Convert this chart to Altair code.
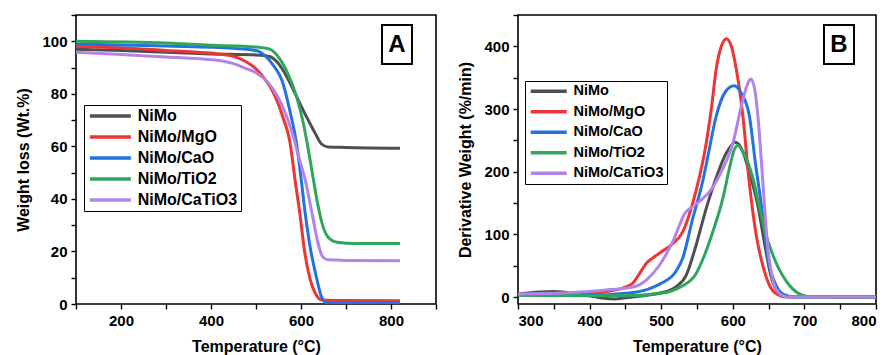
import altair as alt
import pandas as pd

SERIES = ["NiMo", "NiMo/MgO", "NiMo/CaO", "NiMo/TiO2", "NiMo/CaTiO3"]
COLORS = ["#4f4f4f", "#ee3434", "#2272e0", "#30a65c", "#b283e8"]

# ---------- Panel A: TGA (weight %) ----------
a_nimo_t = [100, 200, 300, 400, 500, 530, 550, 570, 590, 610, 630, 645, 660, 700, 820]
a_nimo_w = [97, 96.5, 95.8, 95.2, 94.8, 94.2, 91.5, 86, 79, 72, 65.5, 61, 59.8, 59.6, 59.3]

a_mgo_t = [100, 200, 300, 400, 450, 480, 500, 520, 540, 560, 575, 587, 597, 608, 620, 632, 647, 700, 820]
a_mgo_w = [98, 97.5, 96.5, 95.5, 94.3, 92, 89.5, 85.5, 80, 71, 62, 47, 35, 20, 9.6, 4, 1.5, 1.3, 1.2]

a_cao_t = [100, 300, 450, 500, 520, 540, 558, 576, 591, 600, 609, 620, 635, 645, 655, 700, 820]
a_cao_w = [99, 98.2, 97.3, 96.5, 94.5, 90.5, 85, 73, 60, 48, 35, 22, 9.6, 3, 0.6, 0.3, 0.3]

a_tio2_t = [100, 300, 400, 500, 530, 550, 570, 590, 605, 615, 625, 635, 648, 660, 680, 720, 820]
a_tio2_w = [100, 99.3, 98.5, 97.8, 97, 94, 88, 79, 69, 60, 50, 40, 30, 25.5, 23.5, 23, 23]

a_catio3_t = [100, 200, 300, 400, 450, 480, 500, 528, 558, 580, 595, 609, 624, 639, 648, 660, 700, 820]
a_catio3_w = [95.8, 95, 94, 93, 91.5, 89.5, 88, 84, 75.5, 65.5, 56, 47.5, 35, 22.4, 18, 16.8, 16.6, 16.5]

# ---------- Panel B: DTG (%/min) ----------
b_nimo_t = [300, 330, 350, 370, 400, 420, 435, 450, 480, 500, 520, 535, 548, 562, 576, 590, 604,
            614, 623, 635, 644, 653, 665, 675, 800]
b_nimo_d = [5, 8, 9, 7, 2, -2, -3, -1, 3, 7, 16, 35, 80, 138, 188, 228, 247,
            232, 199, 146, 88, 35, 5, 0, 0]

b_mgo_t = [300, 350, 400, 430, 450, 460, 470, 480, 490, 500, 515, 530, 544, 555, 562, 570, 577, 584,
           591, 598, 604, 614, 623, 632, 642, 650, 656, 663, 670, 800]
b_mgo_d = [4, 5, 6, 10, 16, 22, 38, 55, 64, 72, 84, 104, 150, 200, 240, 300, 365, 400,
           412, 400, 369, 290, 183, 104, 50, 22, 10, 4, 1, 0]

b_cao_t = [300, 400, 450, 480, 500, 520, 530, 544, 558, 567, 576, 590, 602, 612, 623, 632, 642, 651,
           657, 663, 670, 677, 685, 800]
b_cao_d = [3, 3, 6, 12, 22, 40, 62, 125, 185, 235, 285, 328, 337, 325, 290, 210, 130, 50,
           28, 13, 5, 2, 0, 0]

b_tio2_t = [300, 400, 450, 500, 515, 530, 548, 558, 572, 586, 595, 602, 607, 615, 628, 637, 645, 660,
            679, 697, 710, 800]
b_tio2_d = [3, 2, 2, 6, 10, 18, 36, 60, 104, 157, 204, 235, 242, 230, 190, 145, 105, 56,
            19, 3, 0, 0]

b_catio3_t = [300, 350, 400, 430, 450, 470, 480, 497, 516, 534, 545, 558, 570, 586, 600, 613, 620, 625,
              630, 635, 642, 649, 653, 658, 664, 670, 680, 800]
b_catio3_d = [5, 6, 9, 12, 14, 20, 28, 50, 88, 135, 145, 157, 172, 205, 245, 310, 338, 348,
              335, 290, 183, 77, 45, 19, 7, 2, 0, 0]


def long_df(pairs, ycol):
    rows = []
    for name, (ts, vs) in zip(SERIES, pairs):
        for t, v in zip(ts, vs):
            rows.append({"Sample": name, "T": t, ycol: v})
    return pd.DataFrame(rows)


df_a = long_df([(a_nimo_t, a_nimo_w), (a_mgo_t, a_mgo_w), (a_cao_t, a_cao_w),
                (a_tio2_t, a_tio2_w), (a_catio3_t, a_catio3_w)], "W")
df_b = long_df([(b_nimo_t, b_nimo_d), (b_mgo_t, b_mgo_d), (b_cao_t, b_cao_d),
                (b_tio2_t, b_tio2_d), (b_catio3_t, b_catio3_d)], "D")

FONT = "Liberation Sans"


def axis(title, values, label_step, title_pad):
    return alt.Axis(
        title=title, values=values, grid=False, domain=False,
        labelExpr=f"datum.value % {label_step} == 0 ? datum.label : ''",
        labelFont=FONT, labelFontSize=15, labelFontWeight="bold", labelColor="black",
        labelPadding=4, tickColor="black", tickWidth=1.4, tickSize=5,
        titleFont=FONT, titleFontSize=16, titleFontWeight="bold", titleColor="black",
        titlePadding=title_pad,
    )


def legend(x, y, font_size, sym_len, row_pad):
    # custom path spanning [-1, 7] units; unit = sqrt(size)/2
    unit = sym_len / 8.0
    size = (2 * unit) ** 2
    return alt.Legend(
        title=None, orient="none", legendX=x, legendY=y,
        fillColor="white", strokeColor="black", padding=3,
        symbolType="M-1,0L7,0", symbolSize=size, symbolStrokeWidth=3.5,
        symbolFillColor="transparent",
        labelFont=FONT, labelFontSize=font_size, labelFontWeight="bold", labelColor="black",
        rowPadding=row_pad, labelOffset=sym_len + 4 - 2 * unit,
    )


def panel(df, ycol, xdom, ydom, xvals, xstep, yvals, ystep, ytitle, leg, letter):
    lines = alt.Chart(df).mark_line(strokeWidth=3, interpolate="monotone", clip=True).encode(
        x=alt.X("T:Q", scale=alt.Scale(domain=xdom, nice=False, zero=False),
                axis=axis("Temperature (°C)", xvals, xstep, 10)),
        y=alt.Y(f"{ycol}:Q", scale=alt.Scale(domain=ydom, nice=False, zero=False),
                axis=axis(ytitle, yvals, ystep, 10)),
        color=alt.Color("Sample:N", scale=alt.Scale(domain=SERIES, range=COLORS), legend=leg),
        order=alt.Order("T:Q"),
    )
    tag = pd.DataFrame({"label": [letter]})
    box = alt.Chart(tag).mark_rect(fill="white", stroke="black", strokeWidth=2).encode(
        x=alt.value(306), x2=alt.value(336), y=alt.value(10), y2=alt.value(49))
    txt = alt.Chart(tag).mark_text(font=FONT, fontSize=24, fontWeight="bold", color="black",
                                    baseline="middle", align="center").encode(
        x=alt.value(321), y=alt.value(30), text="label:N")
    return alt.layer(lines, box, txt)


chart_a = panel(df_a, "W", [100, 900], [0, 110], list(range(100, 901, 100)), 200,
                list(range(0, 111, 10)), 20, "Weight loss (Wt.%)",
                legend(8, 90, 16, 41, 5), "A").properties(width=360, height=289)

chart_b = panel(df_b, "D", [300, 800], [-11, 450], list(range(300, 801, 50)), 100,
                list(range(0, 451, 50)), 100, "Derivative Weight (%/min)",
                legend(7, 66, 14.5, 36, 4.5), "B").properties(width=358, height=289)

chart = alt.hconcat(chart_a, chart_b, spacing=19).resolve_scale(color="independent").resolve_legend(
    color="independent"
).properties(
    padding={"left": 15, "top": 13, "right": 5, "bottom": 5},
    background="white",
).configure_view(stroke="black", strokeWidth=1.6)

chart.save("out.html", embed_options={"renderer": "svg", "actions": False})
